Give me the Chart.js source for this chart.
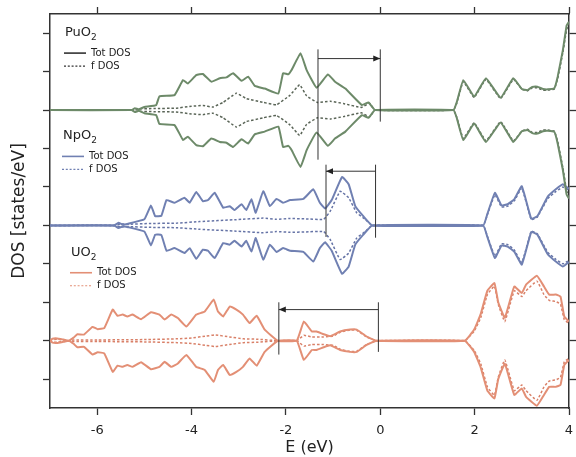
<!DOCTYPE html>
<html>
<head>
<meta charset="utf-8">
<title>DOS of PuO2, NpO2, UO2</title>
<script src="https://cdn.jsdelivr.net/npm/chart.js@4.4.1/dist/chart.umd.min.js"></script>
<style>
  html, body { margin: 0; padding: 0; background: #fff; }
  #wrap { width: 576px; height: 457px; }
</style>
</head>
<body>
<div id="wrap"><canvas id="dosChart" width="576" height="457"></canvas></div>
<script>
// Axis ticks (E in eV, y ticks have no labels)
const xTicks = [-6, -4, -2, 0, 2, 4];
const yTicks = [0.75, 1.75, 2.75, 3.75, 4.75, 5.75, 6.75, 7.75, 8.75, 9.75];

// PuO2 - total DOS
const puTotE = [-7, -5.27, -5.2, -5.12, -5.0, -4.75, -4.68, -4.36, -4.18, -4.08, -3.9, -3.76, -3.58, -3.4, -3.26, -3.12, -2.94, -2.8, -2.66, -2.45, -2.16, -2.06, -1.95, -1.88, -1.69, -1.56, -1.35, -1.11, -0.96, -0.74, -0.39, -0.25, -0.11, 1.55, 1.62, 1.76, 1.99, 2.24, 2.55, 2.82, 3.0, 3.12, 3.22, 3.33, 3.45, 3.55, 3.69, 3.76, 3.87, 3.95, 4.0];
const puTot = [0, 0, 0.05, 0.02, 0.08, 0.13, 0.36, 0.39, 0.78, 0.69, 0.91, 0.94, 0.74, 0.83, 0.85, 0.96, 0.76, 0.87, 0.63, 0.56, 0.43, 0.96, 0.93, 1.04, 1.48, 1.04, 0.58, 0.93, 0.74, 0.56, 0.13, 0.2, 0, 0, 0.2, 0.78, 0.35, 0.83, 0.32, 0.83, 0.55, 0.52, 0.6, 0.61, 0.55, 0.54, 0.57, 0.87, 1.56, 2.2, 2.3];
// PuO2 - f DOS
const puFE = [-7, -5.27, -5.15, -4.8, -4.33, -4.0, -3.76, -3.55, -3.33, -3.05, -2.84, -2.48, -2.2, -1.91, -1.71, -1.56, -1.33, -1.06, -0.78, -0.4, -0.23, -0.11, 1.55, 1.62, 1.76, 1.99, 2.24, 2.55, 2.82, 3.0, 3.12, 3.22, 3.33, 3.45, 3.55, 3.69, 3.76, 3.87, 3.95, 4.0];
const puF = [0, 0, 0.03, 0.04, 0.05, 0.1, 0.12, 0.08, 0.2, 0.44, 0.3, 0.2, 0.14, 0.39, 0.66, 0.37, 0.2, 0.23, 0.17, 0.07, 0.18, 0, 0, 0.18, 0.74, 0.33, 0.8, 0.3, 0.8, 0.55, 0.5, 0.58, 0.58, 0.52, 0.52, 0.55, 0.82, 1.5, 2.1, 2.25];

// NpO2 - total DOS
const npTotE = [-7, -5.64, -5.55, -5.45, -5.36, -5.0, -4.86, -4.77, -4.64, -4.53, -4.36, -4.15, -4.04, -3.9, -3.76, -3.65, -3.51, -3.33, -3.19, -3.09, -2.94, -2.84, -2.73, -2.64, -2.48, -2.34, -2.2, -2.06, -1.91, -1.63, -1.42, -1.28, -1.17, -1.03, -0.81, -0.67, -0.53, -0.36, -0.17, 2.18, 2.27, 2.43, 2.57, 2.7, 2.84, 3.0, 3.2, 3.33, 3.55, 3.72, 3.87, 3.97, 4.0];
const npTot = [0, 0, 0.07, 0.02, 0.04, 0.16, 0.52, 0.24, 0.25, 0.66, 0.59, 0.72, 0.59, 0.87, 0.63, 0.66, 0.85, 0.46, 0.5, 0.4, 0.55, 0.4, 0.68, 0.33, 0.89, 0.5, 0.69, 0.59, 0.66, 0.69, 0.94, 0.59, 0.44, 0.66, 1.26, 1.07, 0.5, 0.24, 0, 0, 0.3, 0.85, 0.52, 0.55, 0.68, 1.02, 0.17, 0.24, 0.75, 0.94, 1.07, 0.98, 0.95];
// NpO2 - f DOS
const npFE = [-7, -5.64, -5.5, -5.36, -4.9, -4.3, -3.83, -3.05, -2.48, -2.2, -1.91, -1.6, -1.2, -1.06, -0.85, -0.67, -0.5, -0.32, -0.17, 2.18, 2.27, 2.43, 2.57, 2.7, 2.84, 3.0, 3.2, 3.33, 3.55, 3.72, 3.87, 3.97, 4.0];
const npF = [0, 0, 0.04, 0.03, 0.05, 0.06, 0.1, 0.15, 0.19, 0.16, 0.18, 0.17, 0.16, 0.37, 0.89, 0.72, 0.33, 0.16, 0, 0, 0.28, 0.8, 0.48, 0.5, 0.64, 0.97, 0.15, 0.22, 0.7, 0.88, 1.0, 0.93, 0.9];

// UO2 - total DOS
const uTotE = [-7, -6.95, -6.85, -6.72, -6.6, -6.5, -6.42, -6.28, -6.1, -5.99, -5.85, -5.67, -5.57, -5.46, -5.36, -5.25, -5.07, -4.86, -4.68, -4.57, -4.43, -4.29, -4.11, -3.9, -3.72, -3.53, -3.44, -3.33, -3.19, -3.05, -2.91, -2.77, -2.62, -2.45, -2.17, -1.77, -1.62, -1.45, -1.35, -1.2, -1.06, -0.85, -0.64, -0.5, -0.29, -0.08, 1.79, 1.99, 2.13, 2.27, 2.42, 2.5, 2.64, 2.84, 3.0, 3.09, 3.32, 3.47, 3.58, 3.72, 3.82, 3.9, 4.0];
const uTot = [0, 0.05, 0.06, 0.03, 0, 0.08, 0.17, 0.16, 0.36, 0.3, 0.33, 0.81, 0.65, 0.68, 0.63, 0.68, 0.56, 0.74, 0.68, 0.55, 0.68, 0.59, 0.37, 0.68, 0.76, 1.07, 0.76, 0.63, 0.89, 0.81, 0.68, 0.46, 0.65, 0.29, 0, 0, 0.5, 0.24, 0.24, 0.17, 0.12, 0.24, 0.29, 0.29, 0.11, 0, 0, 0.29, 0.7, 1.3, 1.5, 1.0, 0.6, 1.41, 1.24, 1.46, 1.69, 1.41, 1.2, 1.2, 1.15, 0.63, 0.5];
// UO2 - f DOS
const uFE = [-7, -6.95, -6.85, -6.6, -6.5, -6.0, -5.0, -4.3, -4.0, -3.7, -3.5, -3.2, -2.9, -2.6, -2.17, -1.77, -1.62, -1.45, -1.2, -1.0, -0.85, -0.64, -0.5, -0.29, -0.08, 1.79, 1.99, 2.13, 2.27, 2.42, 2.5, 2.64, 2.84, 3.0, 3.09, 3.32, 3.47, 3.58, 3.72, 3.82, 3.9, 4.0];
const uF = [0, 0.03, 0.04, 0, 0.02, 0.02, 0.03, 0.05, 0.07, 0.12, 0.15, 0.1, 0.05, 0.04, 0, 0, 0.14, 0.1, 0.1, 0.12, 0.22, 0.28, 0.27, 0.1, 0, 0, 0.25, 0.6, 1.2, 1.42, 0.95, 0.5, 1.3, 1.15, 1.3, 1.55, 1.2, 1.05, 1.02, 0.95, 0.55, 0.45];

// Gap arrows: [start E, end E] (arrow points from start to end)
const puGap = [-1.32, 0];
const npGap = [-0.1, -1.15];
const uGap = [-0.04, -2.15];

// Panel layout and styles
const panels = [
    { name: "PuO", base: 7.75, tot: [puTotE, puTot], f: [puFE, puF], gap: puGap,
      color: "#6d8a69", fColor: "#5a6557", legColor: "#333", legFColor: "#333",
      labelDy: -74, legX: 64, gapTop: 1.58, gapLeft: -1.29, gapRight: -0.3, gapY: 1.34 },
    { name: "NpO", base: 4.75, tot: [npTotE, npTot], f: [npFE, npF], gap: npGap,
      color: "#7080b2", fColor: "#6573a6", legColor: "#7080b2", legFColor: "#7080b2",
      labelDy: -86, legX: 62, gapTop: 1.58, gapLeft: -0.3, gapRight: -0.32, gapY: 1.41 },
    { name: "UO", base: 1.75, tot: [uTotE, uTot], f: [uFE, uF], gap: uGap,
      color: "#e38f75", fColor: "#d98068", legColor: "#e38f75", legFColor: "#e38f75",
      labelDy: -85, legX: 70, gapTop: 1.0, gapLeft: -0.36, gapRight: -0.29, gapY: 0.81 }
];

// Build mirrored datasets (upper = base + DOS, lower = base - DOS)
function mirror(src, base, sign) {
    return src[0].map((e, i) => ({ x: e, y: base + sign * src[1][i] }));
}

let datasets = [];
panels.forEach(p => {
    [1, -1].forEach(sign => {
        datasets.push({ data: mirror(p.tot, p.base, sign), borderColor: p.color, borderWidth: 2 });
    });
});
panels.forEach(p => {
    [1, -1].forEach(sign => {
        datasets.push({ data: mirror(p.f, p.base, sign), borderColor: p.fColor, borderWidth: 1.5, borderDash: [2.5, 2] });
    });
});

// Labels, legends and gap arrows
const annotations = {
    id: "annotations",
    afterDatasetsDraw(chart) {
        const ctx = chart.ctx;
        const xs = chart.scales.x, ys = chart.scales.y;
        ctx.save();
        panels.forEach(p => {
            const basePx = ys.getPixelForValue(p.base);
            const top = p.labelDy + basePx;
            // panel label with subscript
            ctx.fillStyle = "#222";
            ctx.textBaseline = "alphabetic";
            ctx.font = "13px 'DejaVu Sans'";
            ctx.fillText(p.name, p.legX + 1, top);
            let w = ctx.measureText(p.name).width;
            ctx.font = "9px 'DejaVu Sans'";
            ctx.fillText("2", p.legX + 1 + w, top + 4);

            // legend
            const ly1 = top + 17, ly2 = top + 30;
            ctx.lineWidth = 1.6;
            ctx.strokeStyle = p.legColor;
            ctx.setLineDash([]);
            ctx.beginPath(); ctx.moveTo(p.legX, ly1); ctx.lineTo(p.legX + 22, ly1); ctx.stroke();
            ctx.strokeStyle = p.legFColor;
            ctx.lineWidth = 1.2;
            ctx.setLineDash([2, 1.8]);
            ctx.beginPath(); ctx.moveTo(p.legX, ly2); ctx.lineTo(p.legX + 22, ly2); ctx.stroke();
            ctx.setLineDash([]);
            ctx.fillStyle = "#222";
            ctx.font = "10px 'DejaVu Sans'";
            ctx.textBaseline = "middle";
            ctx.fillText("Tot DOS", p.legX + 27, ly1);
            ctx.fillText("f DOS", p.legX + 27, ly2);

            // gap arrow
            const x1 = xs.getPixelForValue(p.gap[0]);
            const x2 = xs.getPixelForValue(p.gap[1]);
            const yTop = ys.getPixelForValue(p.base + p.gapTop);
            const yArr = ys.getPixelForValue(p.base + p.gapY);
            const lx = Math.min(x1, x2), rx = Math.max(x1, x2);
            const lBottom = ys.getPixelForValue(p.base + p.gapLeft);
            const rBottom = ys.getPixelForValue(p.base + p.gapRight);
            ctx.strokeStyle = "#333";
            ctx.fillStyle = "#222";
            ctx.lineWidth = 1;
            ctx.beginPath();
            ctx.moveTo(lx, yTop); ctx.lineTo(lx, lBottom);
            ctx.moveTo(rx, yTop); ctx.lineTo(rx, rBottom);
            ctx.moveTo(x1, yArr); ctx.lineTo(x2, yArr);
            ctx.stroke();
            const dir = x2 > x1 ? 1 : -1;
            ctx.beginPath();
            ctx.moveTo(x2, yArr);
            ctx.lineTo(x2 - dir * 7, yArr - 3);
            ctx.lineTo(x2 - dir * 7, yArr + 3);
            ctx.closePath();
            ctx.fill();
        });
        ctx.restore();
    }
};

const axisColor = "#333";
function gridOpts() {
    return { drawOnChartArea: false, drawTicks: true, tickLength: 7, tickColor: axisColor, tickWidth: 1.3 };
}
function borderOpts() {
    return { display: true, color: axisColor, width: 1.5 };
}

new Chart(document.getElementById("dosChart"), {
    type: "line",
    data: { datasets: datasets },
    options: {
        responsive: false,
        animation: false,
        layout: { padding: 0 },
        elements: { point: { radius: 0 }, line: { tension: 0.1, fill: false } },
        plugins: { legend: { display: false }, tooltip: { enabled: false } },
        scales: {
            x: {
                type: "linear", position: "bottom", min: -7, max: 4,
                afterBuildTicks: s => { s.ticks = xTicks.map(v => ({ value: v })); },
                ticks: { color: "#222", font: { family: "DejaVu Sans", size: 13 }, padding: 8 },
                grid: gridOpts(), border: borderOpts(),
                title: { display: true, text: "E (eV)", color: "#222", font: { family: "DejaVu Sans", size: 16 }, padding: { top: 0, bottom: 0 } },
                afterFit: s => { s.height = 49; s.paddingLeft = 0; s.paddingRight = 0; }
            },
            x2: {
                type: "linear", position: "top", min: -7, max: 4,
                afterBuildTicks: s => { s.ticks = xTicks.map(v => ({ value: v })); },
                ticks: { display: false },
                grid: gridOpts(), border: borderOpts(),
                afterFit: s => { s.height = 14; s.paddingLeft = 0; s.paddingRight = 0; }
            },
            y: {
                type: "linear", position: "left", min: 0, max: 10.25,
                afterBuildTicks: s => { s.ticks = yTicks.map(v => ({ value: v })); },
                ticks: { display: false },
                grid: gridOpts(), border: borderOpts(),
                title: { display: true, text: "DOS [states/eV]", color: "#222", font: { family: "DejaVu Sans", size: 17 }, padding: { top: 9, bottom: 0 } },
                afterFit: s => { s.width = 50; }
            },
            y2: {
                type: "linear", position: "right", min: 0, max: 10.25,
                afterBuildTicks: s => { s.ticks = yTicks.map(v => ({ value: v })); },
                ticks: { display: false },
                grid: gridOpts(), border: borderOpts(),
                afterFit: s => { s.width = 7; }
            }
        }
    },
    plugins: [annotations]
});
</script>
</body>
</html>
